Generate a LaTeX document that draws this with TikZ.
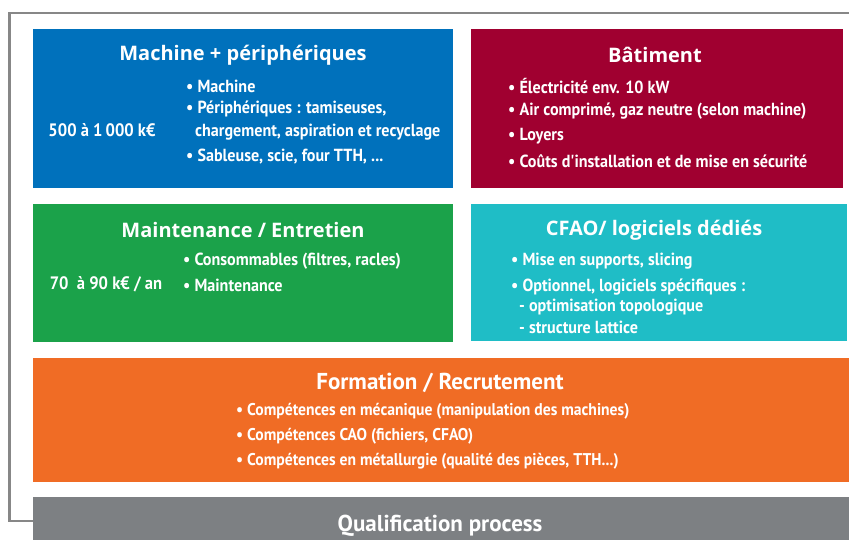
\documentclass[tikz,border=0pt]{standalone}
\usepackage{fontspec}
\setmainfont{PT Sans}
\newfontfamily\condfont[FakeStretch=0.92]{PT Sans}
\newfontfamily\titlefont{Open Sans}
\definecolor{cblue}{RGB}{0,113,188}
\definecolor{cred}{RGB}{160,0,48}
\definecolor{cgreen}{RGB}{27,162,74}
\definecolor{cteal}{RGB}{31,189,198}
\definecolor{corange}{RGB}{240,108,37}
\definecolor{cgrey}{RGB}{125,128,131}
\definecolor{cframe}{RGB}{135,135,135}
\begin{document}
\begin{tikzpicture}[x=1pt,y=-1pt,
  panel/.style={inner sep=0, outer sep=0, draw=none},
  ttl/.style={text=white, inner sep=0, font=\titlefont\bfseries\fontsize{20}{24}\selectfont},
  cttl/.style={text=white, inner sep=0, font=\bfseries\fontsize{23}{26}\selectfont},
  itm/.style={text=white, inner sep=0, anchor=west, font=\condfont\bfseries\fontsize{17.5}{20}\selectfont},
  oitm/.style={itm, font=\condfont\bfseries\fontsize{17}{20}\selectfont},
  cost/.style={text=white, inner sep=0, font=\condfont\bfseries\fontsize{18}{21}\selectfont}]
\useasboundingbox (0,0) rectangle (849,540);
\begin{scope}
\clip (0,0) rectangle (849,540);
\draw[cframe, line width=2.5pt] (9.5,13) rectangle (870,521);
\node[panel, fill=cblue, minimum width=420pt, minimum height=159pt] (pblue) at (243,108.5) {};
\node[panel, fill=cred, minimum width=372pt, minimum height=159pt] (pred) at (657,108.5) {};
\node[panel, fill=cgreen, minimum width=420pt, minimum height=138pt] (pgreen) at (243,273) {};
\node[panel, fill=cteal, minimum width=376pt, minimum height=137pt] (pteal) at (659,272.5) {};
\node[panel, fill=corange, minimum width=816pt, minimum height=124pt] (porange) at (441,420) {};
\node[panel, fill=cgrey, minimum width=816pt, minimum height=44pt] (pgrey) at (441,519) {};
\end{scope}
% blue
\node[ttl] (t1) at (243,55) {Machine + périphériques};
\node[cost] (c1) at (102,130) {500 à 1\,000 k€};
\node[itm] (b11) at (186,86) {• Machine};
\node[itm] (b12) at (186,109) {• Périphériques : tamiseuses,};
\node[itm] (b13) at (195,132) {chargement, aspiration et recyclage};
\node[itm] (b14) at (186,157) {• Sableuse, scie, four TTH, ...};
% red
\node[ttl] (t2) at (655,55) {Bâtiment};
\node[itm] (b21) at (508,86) {• Électricité env. 10 kW};
\node[itm] (b22) at (508,111) {• Air comprimé, gaz neutre (selon machine)};
\node[itm] (b23) at (508,136) {• Loyers};
\node[itm] (b24) at (508,161) {• Coûts d'installation et de mise en sécurité};
% green
\node[ttl] (t3) at (243,230) {Maintenance / Entretien};
\node[cost] (c3) at (106,284) {70~ à 90 k€ / an};
\node[itm] (b31) at (183,261) {• Consommables (filtres, racles)};
\node[itm] (b32) at (183,285) {• Maintenance};
% teal
\node[ttl] (t4) at (654,230) {CFAO/ logiciels dédiés};
\node[itm] (b41) at (511,261) {• Mise en supports, slicing};
\node[itm] (b42) at (511,287) {• Optionnel, logiciels spécifiques :};
\node[itm] (b43) at (519,307) {- optimisation topologique};
\node[itm] (b44) at (519,327) {- structure lattice};
% orange
\node[cttl] (t5) at (440,383) {Formation / Recrutement};
\node[oitm] (b51) at (236,411) {• Compétences en mécanique (manipulation des machines)};
\node[oitm] (b52) at (236,436) {• Compétences CAO (fichiers, CFAO)};
\node[oitm] (b53) at (236,461) {• Compétences en métallurgie (qualité des pièces, TTH...)};
% grey
\node[cttl] (t6) at (440,525.5) {Qualification process};
\end{tikzpicture}
\end{document}
